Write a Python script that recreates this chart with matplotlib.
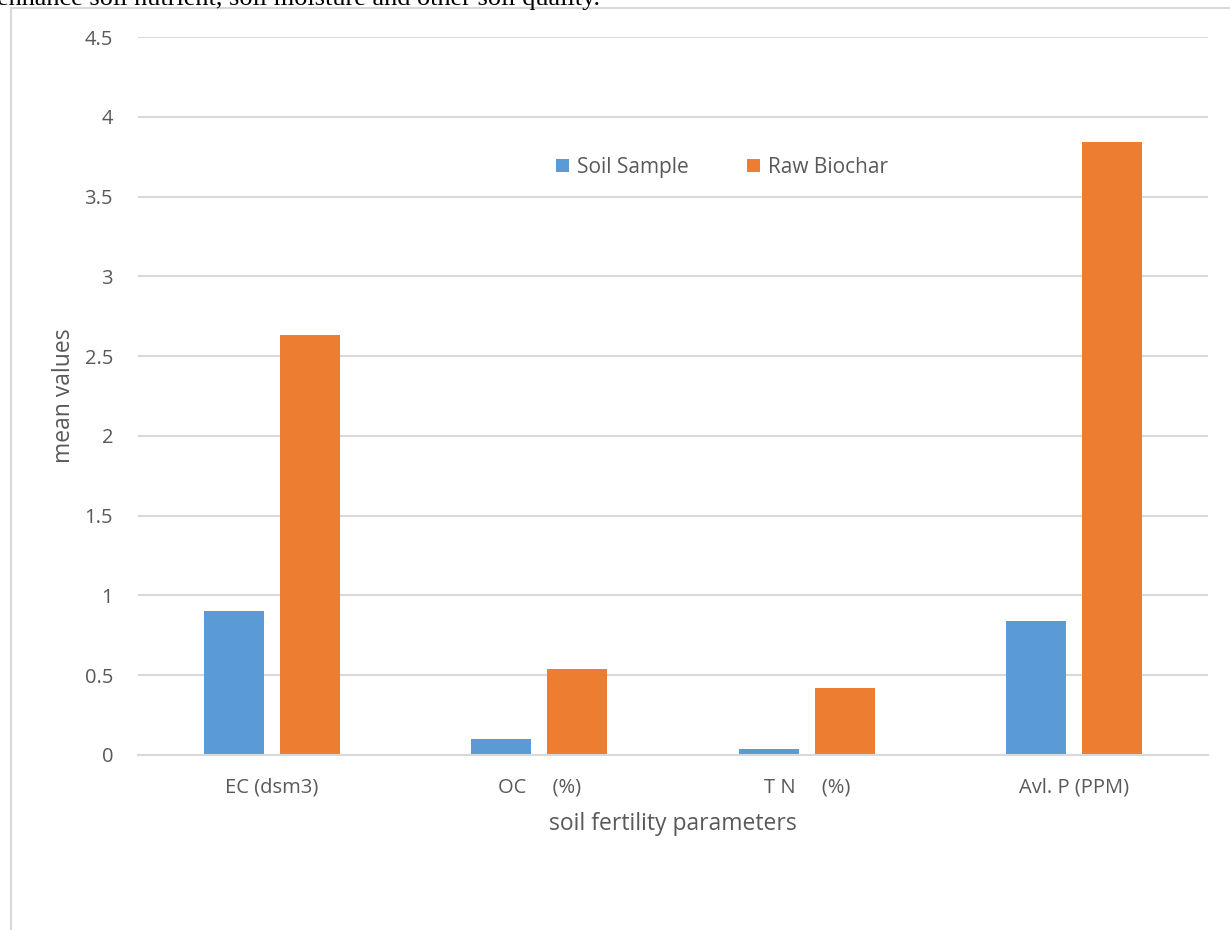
import matplotlib.pyplot as plt
import numpy as np
from matplotlib.lines import Line2D

# data
categories = ['EC (dsm3)', 'OC     (%)', 'T N     (%)', 'Avl. P (PPM)']
soil_sample = [0.90, 0.10, 0.04, 0.84]
raw_biochar = [2.63, 0.54, 0.42, 3.84]
yticks = [0, 0.5, 1, 1.5, 2, 2.5, 3, 3.5, 4, 4.5]

plt.rcParams['font.family'] = ['Open Sans', 'DejaVu Sans']
grey_text = '#595959'
grid_col = '#d9d9d9'

fig = plt.figure(figsize=(12.3, 9.3), dpi=100)
ax = fig.add_axes([0.1122, 0.1882, 0.8700, 0.7720])

x = np.arange(len(categories))
w = 0.224
off = 0.142
ax.bar(x - off, soil_sample, w, color='#5b9bd5', label='Soil Sample', zorder=3)
ax.bar(x + off, raw_biochar, w, color='#ed7d31', label='Raw Biochar', zorder=3)

ax.set_xlim(-0.5, 3.5)
ax.set_ylim(0, 4.5)
ax.set_yticks(yticks)
ax.set_yticklabels([f'{v:g}' for v in yticks])
ax.set_xticks(x)
ax.set_xticklabels(categories)
ax.tick_params(axis='both', length=0, labelsize=14.5, colors=grey_text)
ax.tick_params(axis='y', pad=18)
ax.tick_params(axis='x', pad=16)
ax.grid(axis='y', color=grid_col, linewidth=1.5, zorder=0)
for s in ['top', 'right', 'left']:
    ax.spines[s].set_visible(False)
ax.spines['bottom'].set_color(grid_col)
ax.spines['bottom'].set_linewidth(1.5)
ax.spines['bottom'].set_zorder(4)

ax.set_ylabel('mean values', fontsize=16.5, color=grey_text, labelpad=6)
ax.set_xlabel('soil fertility parameters', fontsize=16.5, color=grey_text, labelpad=11)

ax.legend(loc='center', bbox_to_anchor=(0.546, 0.818), ncol=2, frameon=False,
          fontsize=15, labelcolor=grey_text, handlelength=0.6, handleheight=0.6,
          columnspacing=2.8, handletextpad=0.4)

# chart frame (left and top edges)
fig.add_artist(Line2D([11 / 1230, 11 / 1230], [0, 1 - 8 / 930], color=grid_col, linewidth=1.5))
fig.add_artist(Line2D([11 / 1230, 1], [1 - 8 / 930, 1 - 8 / 930], color=grid_col, linewidth=1.5))

# clipped line of document text above the chart
fig.text(600 / 1230, 1 - 5 / 930, 'enhance soil nutrient, soil moisture and other soil quality.',
         ha='right', va='baseline', fontsize=18.9, family='Liberation Serif', color='black')

fig.savefig('out.png', dpi=100)
